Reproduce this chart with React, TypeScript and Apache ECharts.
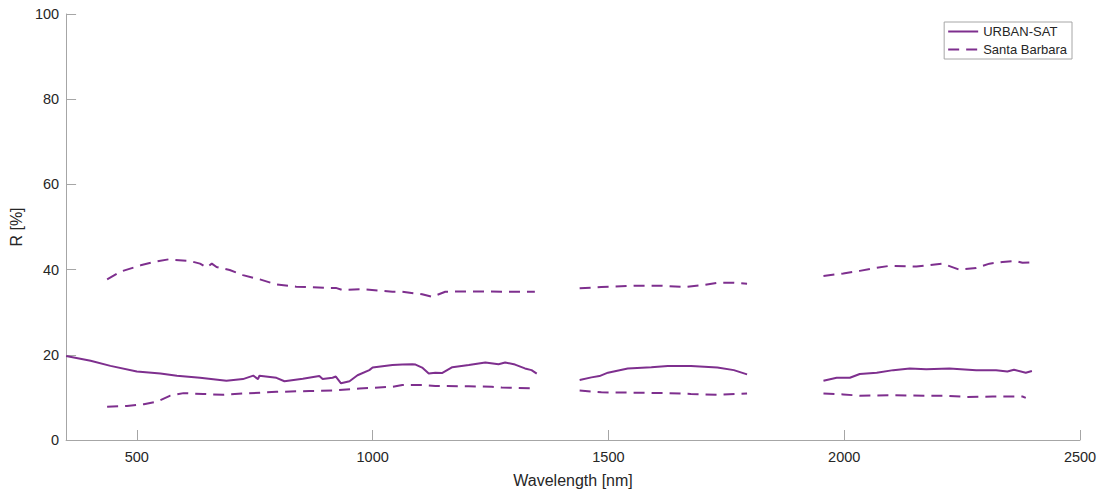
import React, { useEffect, useRef } from "react";
import * as echarts from "echarts";

// Wavelengths [nm] (null = gap / absorption band)
const urbanWl = [350, 402, 444, 500, 550, 585, 634, 690, 725, 747, 757, 760, 796, 813, 852, 887, 894, 915, 922, 933, 951, 968, 993, 1000, 1042, 1063, 1084, 1091, 1105, 1119, 1133, 1147, 1169, 1204, 1239, 1267, 1281, 1302, 1323, 1337, 1348,
  1395,
  1439, 1464, 1481, 1499, 1541, 1591, 1626, 1675, 1731, 1766, 1794,
  1880,
  1956, 1984, 2012, 2033, 2069, 2104, 2139, 2174, 2223, 2280, 2322, 2346, 2360, 2385, 2398];
const urbanR = [19.7, 18.6, 17.4, 16.1, 15.6, 15.1, 14.6, 13.9, 14.3, 15.1, 14.3, 15.1, 14.6, 13.8, 14.4, 15.0, 14.3, 14.6, 14.9, 13.3, 13.8, 15.2, 16.4, 17.0, 17.6, 17.7, 17.8, 17.7, 17.0, 15.6, 15.8, 15.7, 17.1, 17.6, 18.2, 17.8, 18.2, 17.7, 16.8, 16.4, 15.6,
  null,
  14.1, 14.7, 15.0, 15.8, 16.8, 17.1, 17.35, 17.35, 17.0, 16.4, 15.4,
  null,
  13.9, 14.6, 14.6, 15.5, 15.8, 16.4, 16.8, 16.6, 16.8, 16.4, 16.4, 16.1, 16.5, 15.8, 16.2];

const sbHighWl = [437, 465, 508, 536, 567, 613, 634, 648, 659, 669, 697, 725, 761, 796, 838, 901, 922, 936, 979, 1042, 1063, 1105, 1126, 1154, 1204, 1274, 1344,
  1395,
  1439, 1485, 1555, 1612, 1661, 1696, 1731, 1766, 1794,
  1880,
  1956, 1998, 2033, 2062, 2097, 2153, 2209, 2244, 2280, 2308, 2336, 2364, 2378, 2398];
const sbHighR = [37.7, 39.5, 41.0, 41.8, 42.4, 42.0, 41.4, 40.5, 41.4, 40.6, 39.9, 38.7, 37.7, 36.5, 36.0, 35.7, 35.7, 35.2, 35.4, 34.8, 34.8, 34.2, 33.6, 34.8, 34.9, 34.8, 34.8,
  null,
  35.6, 35.9, 36.2, 36.2, 35.9, 36.3, 36.9, 36.9, 36.7,
  null,
  38.5, 39.1, 39.7, 40.3, 40.9, 40.7, 41.4, 40.0, 40.4, 41.4, 41.8, 42.0, 41.6, 41.7];

const sbLowWl = [437, 479, 515, 543, 571, 599, 641, 683, 725, 796, 866, 922, 972, 1042, 1063, 1105, 1133, 1204, 1253, 1274, 1344,
  1395,
  1439, 1485, 1555, 1626, 1675, 1731, 1794,
  1880,
  1956, 1998, 2033, 2104, 2174, 2216, 2258, 2315, 2378, 2385];
const sbLowR = [7.8, 8.0, 8.4, 9.0, 10.4, 11.0, 10.8, 10.6, 10.9, 11.3, 11.5, 11.65, 12.1, 12.5, 12.9, 12.9, 12.7, 12.6, 12.5, 12.3, 12.1,
  null,
  11.6, 11.2, 11.1, 11.0, 10.8, 10.6, 10.9,
  null,
  10.9, 10.7, 10.4, 10.5, 10.4, 10.4, 10.1, 10.2, 10.2, 9.9];

const xTicks = [500, 1000, 1500, 2000, 2500];
const yTicks = [0, 20, 40, 60, 80, 100];

const COLOR = "#7E2F8E";
const FONT = "'Liberation Sans', Arial, Helvetica, sans-serif";
const DASH = [11, 7];

const toData = (xs: number[], ys: (number | null)[]) =>
  xs.map((x, i) => [x, ys[i] === null ? "-" : ys[i]]);

export default function App() {
  const ref = useRef<HTMLDivElement>(null);
  useEffect(() => {
    if (!ref.current) return;
    const chart = echarts.init(ref.current, undefined, { renderer: "svg" });
    const axisLine = { show: true, lineStyle: { color: "#a6a6a6", width: 1 } };
    chart.setOption({
      animation: false,
      backgroundColor: "#ffffff",
      textStyle: { fontFamily: FONT },
      grid: { left: 61, right: 20, top: 14, bottom: 51, containLabel: false },
      legend: {
        right: 28,
        top: 22,
        orient: "vertical",
        backgroundColor: "#ffffff",
        borderColor: "#a6a6a6",
        borderWidth: 1,
        borderRadius: 0,
        padding: [3, 5, 3, 3],
        itemGap: 5,
        itemWidth: 30,
        itemHeight: 13,
        itemStyle: { opacity: 0 },
        textStyle: { fontSize: 13, color: "#262626", fontFamily: FONT },
        data: ["URBAN-SAT", "Santa Barbara"],
      },
      xAxis: {
        type: "value",
        min: 350,
        max: 2500,
        name: "Wavelength [nm]",
        nameLocation: "middle",
        nameGap: 32,
        nameTextStyle: { fontSize: 16, color: "#262626", fontFamily: FONT },
        axisLine,
        axisTick: { show: true, inside: true, length: 10, customValues: xTicks, lineStyle: { color: "#a6a6a6" } },
        axisLabel: {
          customValues: xTicks,
          fontSize: 14.5,
          color: "#262626",
          margin: 9,
          fontFamily: FONT,
          formatter: (v: number) => String(v),
        },
        splitLine: { show: false },
      },
      yAxis: {
        type: "value",
        min: 0,
        max: 100,
        interval: 20,
        name: "R [%]",
        nameLocation: "middle",
        nameGap: 36,
        nameTextStyle: { fontSize: 16, color: "#262626", fontFamily: FONT },
        axisLine,
        axisTick: { show: true, inside: true, length: 10, customValues: yTicks, lineStyle: { color: "#a6a6a6" } },
        axisLabel: {
          customValues: yTicks,
          fontSize: 14.5,
          color: "#262626",
          margin: 7,
          fontFamily: FONT,
          formatter: (v: number) => String(v),
        },
        splitLine: { show: false },
      },
      series: [
        {
          name: "URBAN-SAT",
          type: "line",
          symbol: "none",
          connectNulls: false,
          lineStyle: { color: COLOR, width: 2, type: "solid" },
          itemStyle: { color: COLOR },
          data: toData(urbanWl, urbanR),
        },
        {
          name: "Santa Barbara",
          type: "line",
          symbol: "none",
          connectNulls: false,
          lineStyle: { color: COLOR, width: 2, type: DASH },
          itemStyle: { color: COLOR },
          data: toData(sbHighWl, sbHighR),
        },
        {
          name: "Santa Barbara",
          type: "line",
          symbol: "none",
          connectNulls: false,
          lineStyle: { color: COLOR, width: 2, type: DASH },
          itemStyle: { color: COLOR },
          data: toData(sbLowWl, sbLowR),
        },
      ],
    });
    return () => chart.dispose();
  }, []);
  return (
    <div
      ref={ref}
      style={{ position: "fixed", left: 0, top: 0, width: 1100, height: 493, background: "#fff" }}
    />
  );
}
